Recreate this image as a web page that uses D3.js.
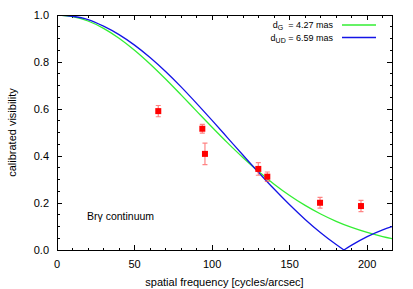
<!DOCTYPE html>
<html lang="en">
<head>
<meta charset="UTF-8">
<title>visibility</title>
<style type="text/css">
    body{margin:0;background:#fff;}
    svg{display:block;font-family:"Liberation Sans",Arial,sans-serif;}
</style>
<script src="https://cdn.jsdelivr.net/npm/d3@7"></script>
</head>
<body>
<div id="draw"></div>
<script>
// measured points
var freq = [65.3, 93.7, 95.4, 129.8, 135.6, 169.6, 196.0];
var vis  = [0.591, 0.516, 0.409, 0.345, 0.312, 0.201, 0.187];
var err  = [0.024, 0.019, 0.046, 0.027, 0.020, 0.023, 0.024];

// model curves
var uGauss = [0, 10, 20, 30, 40, 50, 60, 70, 80, 90, 100, 110, 120, 130, 140, 150, 160, 170, 180, 190, 200, 210, 216];
var vGauss = [1, 0.9935, 0.9744, 0.9433, 0.9014, 0.8502, 0.7916, 0.7276, 0.6601, 0.5911, 0.5225, 0.4560, 0.3927, 0.3339, 0.2802, 0.2322, 0.1898, 0.1532, 0.1221, 0.0960, 0.0746, 0.0571, 0.0484];
var uDisk1 = [0, 10, 20, 30, 40, 50, 60, 70, 80, 90, 100, 110, 120, 130, 140, 150, 160, 170, 180, 185];
var vDisk1 = [1, 0.9947, 0.9807, 0.9526, 0.9167, 0.8719, 0.8191, 0.7595, 0.6941, 0.6240, 0.5514, 0.4774, 0.4031, 0.3300, 0.2594, 0.1924, 0.1301, 0.0734, 0.0230, 0];
var uDisk2 = [185, 190, 200, 210, 216];
var vDisk2 = [0, 0.0205, 0.0568, 0.0858, 0.0998];

var xTicks = [0, 50, 100, 150, 200];
var yTicks = [0, 0.2, 0.4, 0.6, 0.8, 1.0];
var legendLabels = [["d", "G", "  = 4.27 mas"], ["d", "UD", " = 6.59 mas"]];

var W = 413, H = 289;
var m = {left: 57, right: 21, top: 15, bottom: 39};
var pw = W - m.left - m.right, ph = H - m.top - m.bottom;
var green = "#33ee33", blue = "#1414e6";

var x = d3.scaleLinear().domain([0, 216]).range([0, pw]);
var y = d3.scaleLinear().domain([0, 1]).range([ph, 0]);

var svg = d3.select("#draw").append("svg").attr("width", W).attr("height", H);
var g = svg.append("g").attr("transform", "translate(" + m.left + "," + m.top + ")");

g.append("defs").append("clipPath").attr("id", "clip")
    .append("rect").attr("width", pw).attr("height", ph);

// ticks (inside, all four sides)
var minorX = d3.range(0, 217, 10).filter(function(d){ return d % 50 != 0; });
var minorY = d3.range(0, 1.001, 0.05).filter(function(d){ return Math.abs(d / 0.2 - Math.round(d / 0.2)) > 0.01; });
function ticks(sel, vals, len, horiz) {
    sel.selectAll(null).data(vals).enter().append("path")
        .attr("d", function(d){
            if (horiz) {
                var px = x(d);
                return "M" + px + "," + ph + "v" + (-len) + "M" + px + ",0v" + len;
            }
            var py = y(d);
            return "M0," + py + "h" + len + "M" + pw + "," + py + "h" + (-len);
        })
        .attr("stroke", "#000").attr("stroke-width", 1).attr("fill", "none");
}
var tg = g.append("g").attr("shape-rendering", "crispEdges");
ticks(tg, xTicks, 5, true);
ticks(tg, minorX, 2.5, true);
ticks(tg, yTicks, 5, false);
ticks(tg, minorY, 2.5, false);

g.selectAll(".xl").data(xTicks).enter().append("text")
    .attr("x", function(d){ return x(d); }).attr("y", ph + 18)
    .attr("text-anchor", "middle").attr("font-size", 11)
    .text(function(d){ return d; });
g.selectAll(".yl").data(yTicks).enter().append("text")
    .attr("x", -8).attr("y", function(d){ return y(d) + 4; })
    .attr("text-anchor", "end").attr("font-size", 11)
    .text(function(d){ return d.toFixed(1); });

g.append("text").attr("x", pw / 2).attr("y", ph + 36)
    .attr("text-anchor", "middle").attr("font-size", 11)
    .text("spatial frequency [cycles/arcsec]");
g.append("text").attr("transform", "translate(-41," + (ph / 2) + ") rotate(-90)")
    .attr("text-anchor", "middle").attr("font-size", 11)
    .text("calibrated visibility");

// curves
var line = d3.line()
    .x(function(d){ return x(d[0]); })
    .y(function(d){ return y(d[1]); })
    .curve(d3.curveMonotoneX);
var curves = g.append("g").attr("clip-path", "url(#clip)");
curves.append("path").datum(d3.zip(uGauss, vGauss)).attr("d", line)
    .attr("fill", "none").attr("stroke", green).attr("stroke-width", 1.3);
[d3.zip(uDisk1, vDisk1), d3.zip(uDisk2, vDisk2)].forEach(function(pts){
    curves.append("path").datum(pts).attr("d", line)
        .attr("fill", "none").attr("stroke", blue).attr("stroke-width", 1.3);
});

// data points with error bars
var pts = d3.zip(freq, vis, err);
var eb = g.append("g").attr("stroke", "#ff5050").attr("stroke-opacity", 0.7).attr("stroke-width", 1.2);
pts.forEach(function(p){
    var px = x(p[0]);
    eb.append("path").attr("fill", "none")
        .attr("d", "M" + px + "," + y(p[1] - p[2]) + "V" + y(p[1] + p[2])
            + "M" + (px - 2.5) + "," + y(p[1] - p[2]) + "h5"
            + "M" + (px - 2.5) + "," + y(p[1] + p[2]) + "h5");
});
g.selectAll(".pt").data(pts).enter().append("rect")
    .attr("x", function(d){ return x(d[0]) - 3; })
    .attr("y", function(d){ return y(d[1]) - 3; })
    .attr("width", 6).attr("height", 6)
    .attr("fill", "#ff0000");

// frame
g.append("rect").attr("width", pw).attr("height", ph)
    .attr("fill", "none").attr("stroke", "#000").attr("stroke-width", 1)
    .attr("shape-rendering", "crispEdges");

// legend
var lg = g.selectAll(".lg").data(legendLabels).enter().append("g")
    .attr("transform", function(d, i){ return "translate(0," + (10 + i * 12.5) + ")"; });
lg.append("text").attr("x", 276).attr("y", 3).attr("text-anchor", "end")
    .attr("font-size", 9).attr("xml:space", "preserve")
    .each(function(d){
        var t = d3.select(this);
        t.append("tspan").text(d[0]);
        t.append("tspan").attr("font-size", 7).attr("dy", 2).text(d[1]);
        t.append("tspan").attr("dy", -2).text(d[2]);
    });
lg.append("line").attr("x1", 285).attr("x2", 319).attr("y1", 0).attr("y2", 0)
    .attr("stroke", function(d, i){ return i == 0 ? green : blue; })
    .attr("stroke-width", 1.3);

g.append("text").attr("x", 30).attr("y", 205).attr("font-size", 10.5)
    .text("Br\u03b3 continuum");
</script>
</body>
</html>
